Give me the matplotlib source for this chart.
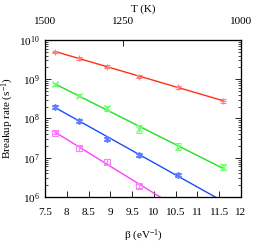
import numpy as np
import matplotlib
matplotlib.use("Agg")
import matplotlib.pyplot as plt
from matplotlib.ticker import LogLocator, FixedLocator, NullFormatter

plt.rcParams['font.family'] = ['Liberation Serif', 'DejaVu Serif']
plt.rcParams['mathtext.fontset'] = 'custom'
plt.rcParams['mathtext.rm'] = 'Liberation Serif'
plt.rcParams['mathtext.it'] = 'Liberation Serif:italic'

beta = [7.74, 8.29, 8.93, 9.67, 10.55, 11.60]

red_log = [9.70, 9.53, 9.32, 9.065, 8.795, 8.45]
green_log = [8.87, 8.58, 8.26, 7.73, 7.28, 6.76]
blue_log = [8.30, 7.94, 7.48, 7.07, 6.56]
magenta_log = [7.64, 7.24, 6.90, 6.29]

red_err = [0.03, 0.03, 0.03, 0.04, 0.04, 0.05]
green_err = [0.04, 0.04, 0.06, 0.10, 0.09, 0.08]
blue_err = [0.05, 0.05, 0.06, 0.05, 0.05]
magenta_err = [0.04, 0.07, 0.06, 0.05]

top_labels = ['1500', '1250', '1000']
top_inv_T = [1/1500, 1/1250, 1/1000]

series = [
    (red_log, red_err, '#ff3010', '#ff8080', '+'),
    (green_log, green_err, '#20e020', '#70ff70', 'x'),
    (blue_log, blue_err, '#1a4cff', '#6080ff', (6, 2, 0)),
    (magenta_log, magenta_err, '#ff40ff', '#ff80ff', 's'),
]

FS = 8

fig = plt.figure(figsize=(2.55, 2.45), dpi=100)
ax = fig.add_axes([0.1765, 0.196, 0.768, 0.641])
ax.set_yscale('log')
ax.set_xlim(7.5, 12)
ax.set_ylim(1e6, 1e10)

xfit = np.array([beta[0], beta[-1]])
for ylog, yerr, lc, pc, mk in series:
    n = len(ylog)
    x = np.array(beta[:n])
    y = 10 ** np.array(ylog)
    lo = y - 10 ** (np.array(ylog) - np.array(yerr))
    hi = 10 ** (np.array(ylog) + np.array(yerr)) - y
    p = np.polyfit(x, ylog, 1)
    ax.plot(xfit, 10 ** np.polyval(p, xfit), color=lc, lw=1.0, zorder=2)
    ax.errorbar(x, y, yerr=[lo, hi], fmt='none', ecolor=pc, elinewidth=0.8,
                capsize=2, capthick=0.8, zorder=3)
    if mk == 's':
        ax.plot(x, y, ls='none', marker='s', ms=4, mfc='none', mec=pc, mew=0.8, zorder=4)
    else:
        ax.plot(x, y, ls='none', marker=mk, ms=5, color=pc, mew=0.9, zorder=4)

ax.set_xticks(np.arange(7.5, 12.01, 0.5))
ax.set_xticklabels(['7.5', '8', '8.5', '9', '9.5', '10', '10.5', '11', '11.5', '12'])
ax.yaxis.set_major_locator(LogLocator(base=10, numticks=10))
ax.yaxis.set_minor_locator(LogLocator(base=10, subs=np.arange(2, 10), numticks=20))
ax.yaxis.set_minor_formatter(NullFormatter())
ax.tick_params(axis='x', which='both', direction='in', top=False, bottom=True,
               length=4, width=0.6, labelsize=FS, pad=8)
ax.tick_params(axis='y', which='major', direction='in', left=True, right=True,
               length=4, width=0.6, labelsize=FS, pad=4)
ax.tick_params(axis='y', which='minor', direction='in', left=True, right=True,
               length=2, width=0.5)
for s in ax.spines.values():
    s.set_linewidth(0.9)
    s.set_color('#333333')

# top axis: linear in 1/T spanning the beta range
ax2 = ax.twiny()
ax2.set_xlim(7.5, 12)
inv_lo, inv_hi = top_inv_T[0], top_inv_T[-1]
top_pos = [7.5 + (v - inv_lo) / (inv_hi - inv_lo) * 4.5 for v in top_inv_T]
ax2.xaxis.set_major_locator(FixedLocator(top_pos))
ax2.set_xticklabels(top_labels)
ax2.tick_params(axis='x', direction='in', length=4, width=0.6, labelsize=FS, pad=10)
ax2.set_xlabel('T (K)', fontsize=FS, labelpad=4)

ax.set_xlabel(r'β (eV$^{\mathregular{-1}}$)', fontsize=FS, labelpad=8)
ax.set_ylabel(r'Breakup rate (s$^{\mathregular{-1}}$)', fontsize=FS, labelpad=2)

fig.savefig('out.png', dpi=100)
